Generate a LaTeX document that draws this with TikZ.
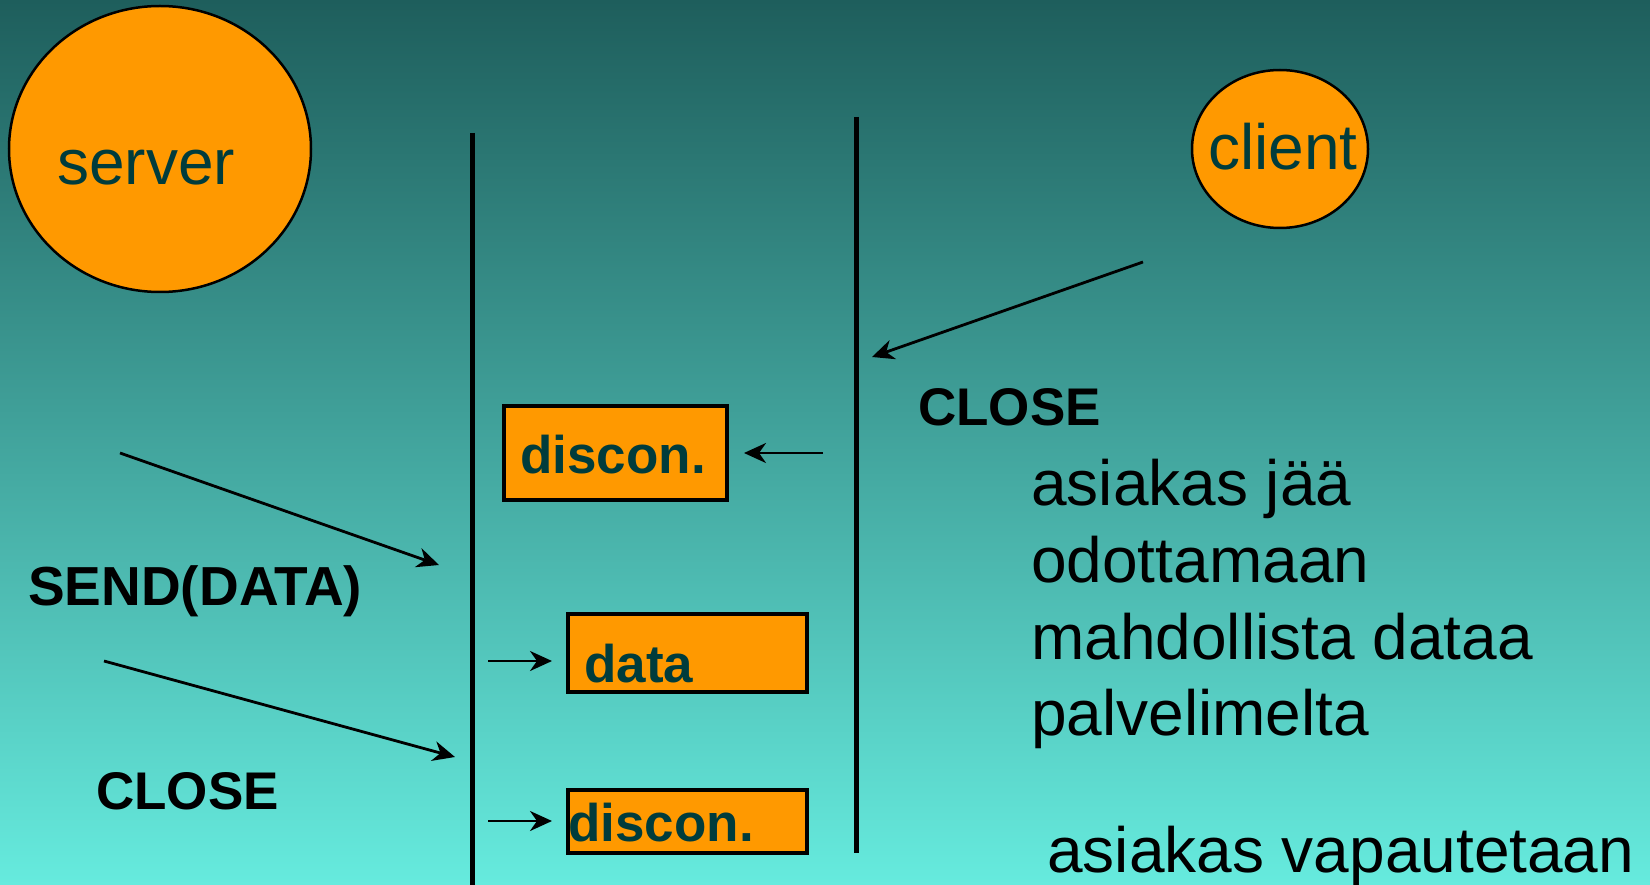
\documentclass[tikz,border=0pt]{standalone}
\usepackage{fontspec}
\setmainfont{Liberation Sans}
\usetikzlibrary{shapes.geometric,arrows.meta}
\definecolor{bgtop}{RGB}{30,94,92}
\definecolor{bgbot}{RGB}{102,235,222}
\definecolor{boxorange}{RGB}{255,153,0}
\definecolor{darkteal}{RGB}{0,60,60}
\tikzset{
  actor/.style={ellipse, draw=black, line width=2.5pt, fill=boxorange, inner sep=0pt},
  actortxt/.style={anchor=base west, inner sep=0pt, text=darkteal, font=\fontsize{64}{77}\selectfont},
  msgbox/.style={draw=black, line width=3.5pt, fill=boxorange},
  boxtxt/.style={anchor=base west, inner sep=0pt, text=darkteal, font=\fontsize{53}{62}\selectfont\bfseries},
  cmd/.style={anchor=base west, inner sep=0pt, text=black, font=\fontsize{53}{62}\selectfont\bfseries},
  note/.style={anchor=base west, inner sep=0pt, text=black, font=\fontsize{64}{77}\selectfont},
  lifeline/.style={line width=5pt, black},
  arr/.style={line width=2.8pt, black, -{Stealth[length=22pt, width=20pt, inset=7pt]}}
}
\begin{document}
\begin{tikzpicture}[x=1pt, y=-1pt]
\useasboundingbox (0,0) rectangle (1650,885);
\shade[top color=bgtop, bottom color=bgbot] (0,0) rectangle (1650,885);

% actors
\node[actor, minimum width=302pt, minimum height=286pt] (server) at (160,149) {};
\node[actortxt] (servertxt) at (57,185) {server};
\node[actor, minimum width=176pt, minimum height=158pt] (client) at (1280,149) {};
\node[actortxt] (clienttxt) at (1208,170) {client};

% lifelines
\coordinate (lltop) at (472,133);
\coordinate (llbot) at (472,885);
\coordinate (rltop) at (856,117);
\coordinate (rlbot) at (856,853);
\draw[lifeline] (lltop) -- (llbot);
\draw[lifeline] (rltop) -- (rlbot);

% boxes
\draw[msgbox] (504,406) rectangle (727,500);
\node[boxtxt] (disc1) at (520,473) {discon.};
\draw[msgbox] (568,614) rectangle (807,692);
\node[boxtxt] (data) at (584,682) {data};
\draw[msgbox] (568,790) rectangle (807,853);
\node[boxtxt] (disc2) at (568,841) {discon.};

% arrows
\coordinate (c1s) at (1143,262);
\coordinate (c1e) at (872,357);
\draw[arr] (c1s) -- (c1e);
\coordinate (d1s) at (823,453);
\coordinate (d1e) at (744,453);
\draw[arr] (d1s) -- (d1e);
\coordinate (s1s) at (120,453);
\coordinate (s1e) at (439,565);
\draw[arr] (s1s) -- (s1e);
\coordinate (s2s) at (104,661);
\coordinate (s2e) at (455,757);
\draw[arr] (s2s) -- (s2e);
\coordinate (m1s) at (488,661);
\coordinate (m1e) at (552,661);
\draw[arr] (m1s) -- (m1e);
\coordinate (m2s) at (488,821);
\coordinate (m2e) at (552,821);
\draw[arr] (m2s) -- (m2e);

% texts
\node[cmd, font=\fontsize{55}{64}\selectfont\bfseries] (send) at (28,605) {SEND(DATA)};
\node[cmd] (closel) at (96,809) {CLOSE};
\node[cmd] (closer) at (918,425) {CLOSE};
\node[note] (n1) at (1031,505) {asiakas jää};
\node[note] (n2) at (1031,582) {odottamaan};
\node[note] (n3) at (1031,659) {mahdollista dataa};
\node[note] (n4) at (1031,735) {palvelimelta};
\node[note] (n5) at (1047,872) {asiakas vapautetaan};
\end{tikzpicture}
\end{document}
